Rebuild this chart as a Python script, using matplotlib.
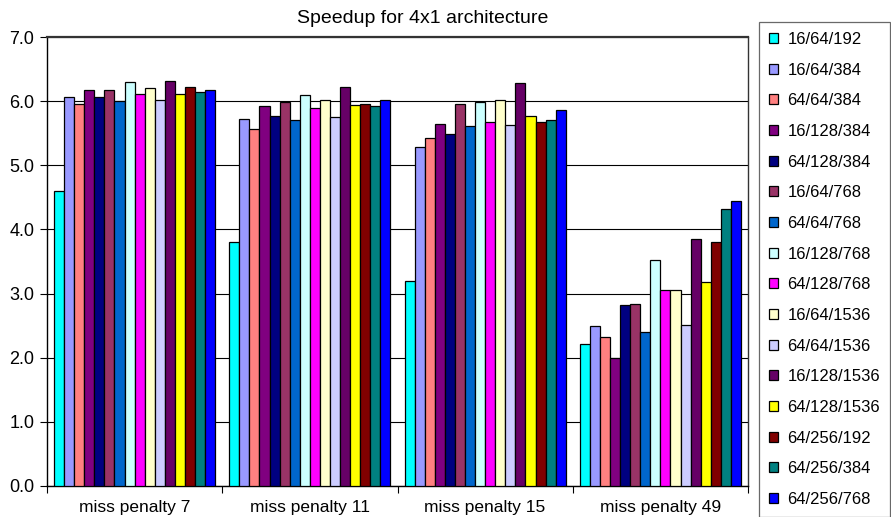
import numpy as np
import matplotlib
matplotlib.use('Agg')
import matplotlib.pyplot as plt
from matplotlib.ticker import FixedLocator, NullFormatter

plt.rcParams['font.family'] = ['Liberation Sans', 'DejaVu Sans']

groups = ['miss penalty 7', 'miss penalty 11', 'miss penalty 15', 'miss penalty 49']
configs = ['16/64/192', '16/64/384', '64/64/384', '16/128/384', '64/128/384',
           '16/64/768', '64/64/768', '16/128/768', '64/128/768', '16/64/1536',
           '64/64/1536', '16/128/1536', '64/128/1536', '64/256/192',
           '64/256/384', '64/256/768']
colors = ['#00FFFF', '#9999FF', '#FF8080', '#800080', '#000080', '#993366',
          '#0066CC', '#CCFFFF', '#FF00FF', '#FFFFCC', '#CCCCFF', '#660066',
          '#FFFF00', '#800000', '#008080', '#0000FF']

# speedup per config, one list per miss penalty
pen7 = [4.60, 6.07, 5.95, 6.18, 6.07, 6.18, 6.00, 6.30,
        6.11, 6.20, 6.02, 6.32, 6.11, 6.22, 6.14, 6.18]
pen11 = [3.80, 5.72, 5.57, 5.93, 5.77, 5.98, 5.70, 6.09,
         5.90, 6.02, 5.75, 6.22, 5.94, 5.95, 5.93, 6.02]
pen15 = [3.20, 5.29, 5.43, 5.65, 5.48, 5.95, 5.61, 5.98,
         5.67, 6.02, 5.63, 6.28, 5.77, 5.68, 5.71, 5.86]
pen49 = [2.21, 2.49, 2.33, 1.99, 2.82, 2.83, 2.40, 3.52,
         3.05, 3.05, 2.51, 3.85, 3.18, 3.80, 4.32, 4.44]
speedup = np.array([pen7, pen11, pen15, pen49]).T

fig = plt.figure(figsize=(8.91, 5.17), dpi=100)
ax = fig.add_axes([47/891, 1-486/517, (748-47)/891, (486-37)/517])

n = len(configs)
w = 0.92 / n
x = np.arange(len(groups))
for i in range(n):
    ax.bar(x - 0.46 + w*(i + 0.5), speedup[i], w, color=colors[i],
           edgecolor='black', linewidth=0.9, label=configs[i], zorder=3)

ax.set_xlim(-0.5, len(groups) - 0.5)
ax.set_ylim(0, 7)
ax.set_yticks(np.arange(0, 7.5, 1.0))
ax.set_yticklabels(['%.1f' % v for v in np.arange(0, 7.5, 1.0)], fontsize=13)
ax.yaxis.grid(True, color='black', linewidth=0.8, zorder=0)

ax.xaxis.set_major_locator(FixedLocator(np.arange(-0.5, len(groups), 1.0)))
ax.xaxis.set_major_formatter(NullFormatter())
ax.xaxis.set_minor_locator(FixedLocator(x))
ax.set_xticklabels(groups, minor=True, fontsize=12.5)
ax.tick_params(axis='x', which='minor', length=0, pad=10)
ax.tick_params(axis='x', which='major', length=5, width=0.8)
ax.tick_params(axis='y', length=5, width=0.8, pad=4)

ax.spines['left'].set_linewidth(1.0)
ax.spines['bottom'].set_linewidth(1.0)
ax.spines['top'].set_color('#333333')
ax.spines['top'].set_linewidth(1.6)
ax.spines['right'].set_color('#333333')
ax.spines['right'].set_linewidth(1.0)

ax.set_title('Speedup for 4x1 architecture', fontsize=14, pad=10, x=0.536)

leg = fig.legend(loc='upper left', bbox_to_anchor=(759/891, 1-22/517),
                 fontsize=12, handlelength=0.55, handleheight=0.55,
                 handletextpad=0.55, labelspacing=0.94, borderpad=0.6,
                 borderaxespad=0, fancybox=False, frameon=True)
leg.get_frame().set_edgecolor('#444444')
leg.get_frame().set_linewidth(0.9)

fig.savefig('out.png', dpi=100)
